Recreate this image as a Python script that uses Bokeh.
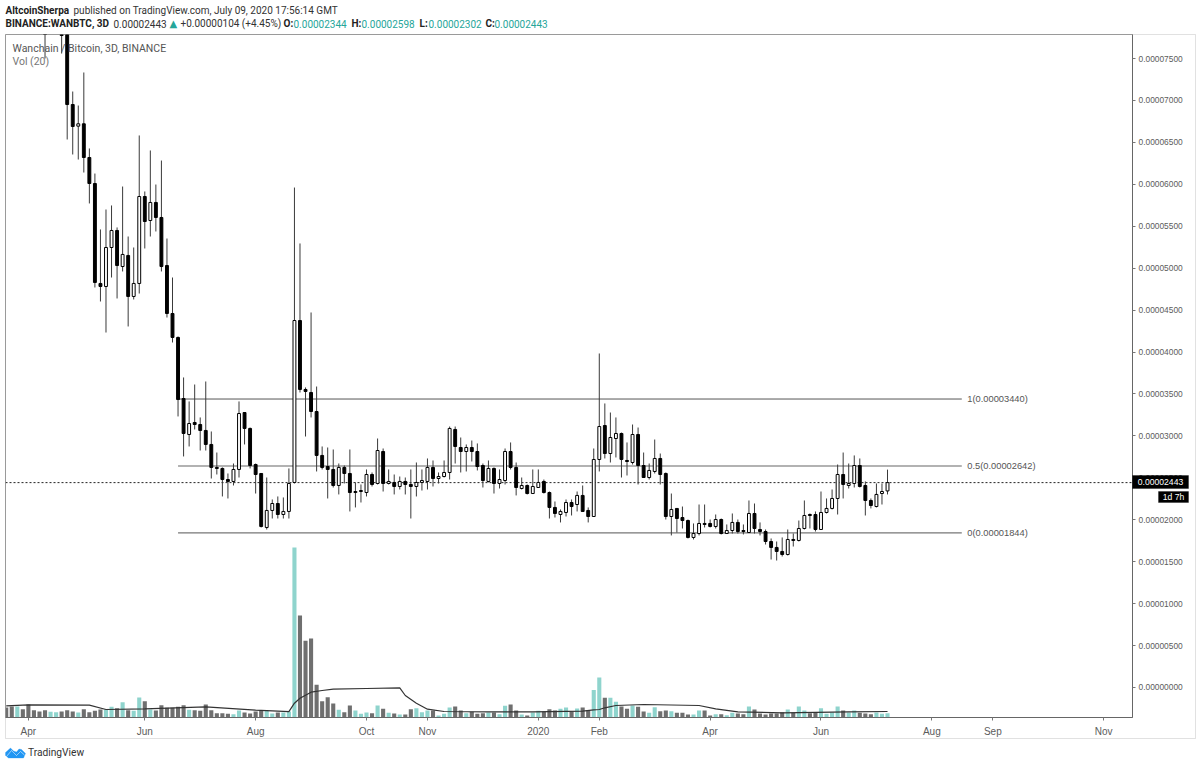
from bokeh.plotting import figure
from bokeh.layouts import column
from bokeh.models import Range1d, FixedTicker, Label, BoxAnnotation, PolyAnnotation
from bokeh.embed import file_html
from bokeh.resources import INLINE

# ---- data (prices in 1e-8 BTC) ----
bars = [-4, -1] + list(range(149))
opens = [8050,7900,7900,6952,6694,6722,6320,6010,4818,4782,5247,5450,5020,5152,4663,4818,5855,5569,5784,5605,5032,4460,4174,
3446,3017,3160,3136,3065,2898,2624,2612,2480,2457,2600,3279,3089,2659,2552,1908,2111,2194,2063,2099,2445,4376,3554,3518,3291,
2767,2635,2600,2409,2624,2552,2325,2337,2325,2540,2433,2814,2433,2445,2397,2457,2421,2397,2445,2457,2624,2492,2516,2564,3077,
2862,2814,2862,2814,2647,2457,2612,2433,2468,2814,2624,2373,2409,2313,2385,2457,2325,2147,2063,2087,2206,2182,2290,2111,2039,
2719,3124,2790,2969,3029,2707,2683,3017,2647,2504,2576,2731,2552,2039,2135,2027,1991,1789,1836,1956,1956,1920,2003,1836,1872,
1968,1872,1848,2075,1884,1860,1741,1670,1622,1586,1765,1753,1896,2063,2063,1884,2087,2135,2254,2540,2409,2433,2647,2409,2230,
2158,2313,2344]
highs = [8100,7950,7950,7107,6940,7334,6428,6129,5462,5700,5748,5486,5974,5378,5247,6583,5915,6404,5998,6284,5354,4889,4186,
3697,3411,3613,3220,3649,3053,2802,2624,2552,2671,3411,3279,3100,2671,2552,2504,2242,2278,2266,2612,5962,5295,3578,4472,3589,
2874,2862,2838,2671,2647,2838,2445,2421,2600,2564,2969,2850,2600,2540,2516,2504,2600,2683,2600,2731,2707,2564,2707,3112,3112,
2981,2898,2945,2910,2671,2707,2624,2600,2850,2922,2683,2504,2421,2600,2600,2480,2337,2218,2123,2242,2242,2337,2409,2147,2850,
3983,3387,3279,3220,3040,2922,3136,3100,2802,2671,2957,2790,2564,2313,2135,2158,2003,1956,2182,2182,2003,2063,2015,1944,2075,
2003,1944,2230,2194,1968,1884,1777,1741,1789,1884,1836,1991,2230,2075,2099,2337,2254,2361,2659,2802,2671,2767,2731,2457,2254,
2433,2433,2598]
lows = [7501,7560,6535,6356,6296,6141,5772,4770,4603,4233,4889,4639,4961,4305,4627,4698,5235,5378,5438,4961,4412,4114,3232,
2755,2874,3077,2826,2826,2492,2540,2278,2254,2409,2504,2898,2612,2313,1908,1884,2015,2015,2015,2015,2433,3518,2993,3220,2576,
2600,2254,2385,2302,2433,2099,2147,2206,2278,2397,2421,2337,2421,2302,2361,2302,2015,2278,2349,2361,2397,2433,2504,2480,2671,
2564,2576,2695,2588,2385,2445,2313,2373,2421,2600,2290,2361,2302,2313,2385,2313,2015,2027,1968,2039,2051,2099,2099,1968,2039,
2576,2731,2683,2743,2504,2528,2659,2421,2504,2480,2552,2421,2003,1813,1848,1896,1777,1765,1813,1908,1908,1896,1825,1836,1836,
1836,1825,1848,1836,1813,1705,1526,1514,1562,1574,1681,1741,1884,1896,1860,1884,2075,2123,2063,2254,2373,2385,2385,2051,2135,
2147,2182,2302]
closes = [7950,7775,6952,6690,6722,6320,6010,4830,4782,5247,5450,5032,5164,4663,4818,5855,5557,5784,5605,5020,4460,4174,3434,
3029,3148,3136,3065,2898,2624,2612,2480,2457,2600,3267,3089,2647,2540,1920,2111,2194,2063,2099,2433,4376,3554,3530,3291,2767,
2624,2600,2409,2624,2552,2325,2337,2349,2540,2421,2826,2433,2457,2397,2457,2421,2397,2445,2468,2624,2492,2516,2564,3089,2874,
2814,2862,2814,2635,2468,2612,2433,2480,2814,2624,2385,2409,2313,2397,2445,2325,2147,2075,2099,2206,2158,2290,2099,2039,2719,
3112,2790,2981,3029,2719,2695,3017,2647,2504,2588,2731,2540,2039,2123,2015,1991,1789,1836,1956,1944,1920,2003,1836,1872,1968,
1860,1860,2075,1896,1860,1741,1670,1622,1586,1765,1753,1896,2051,2051,1884,2087,2135,2254,2540,2421,2433,2647,2397,2230,2170,
2302,2337,2443]

volume_bars = list(range(-11, 149))
volume = [10,11,11,8.3,13,7.3,6,7.3,5.7,5.3,6,7.3,6,5,8.3,5.3,6.7,8,8,10.7,9.3,15.3,7.3,6.7,20,16.3,8,7,12.3,9.7,9.7,10.7,12.3,
7.7,7.3,6.7,13,7.3,4.3,4.3,3.7,3.3,7,5,4,6,7,6.5,4,5,5,6,170,102,76.7,79,32.7,16.3,20.3,14,7.7,5.3,12,7,3.7,5,4.3,12,8.7,4.7,4,
3,3,8.3,9.3,5.3,7,7,2,3.7,10,11,7,4.3,5.7,3.7,4.3,5,5,3.3,11.7,13,7,3,2,5,6.7,5.7,8.3,7,8.7,10,6,9,10,7,27.5,40,19.7,19.7,15.7,
11,8.7,12,10.7,6,4.7,10.3,6.3,7,6.3,4.7,4.7,3,3,7,7,2,3.3,3.3,2.3,4.7,4,3.3,11,8,4,3,4,4,5.3,8,4.7,11,7,4.3,5,9.3,3.7,5,11,7,5,
7,4.7,4,3.3,5,3.7,4.3]
early_volume_up = [0,0,1,0,0,0,0,0,1,1,0]   # bars -11..-1

ma_bars = [-11,-7,4,7,14,25,34,40,41,42,44,46,48,54,60,61,63,65,68,76,84,93,95,96,97,99,104,114,117,121,129,141,148]
ma_values = [11.7,12.7,12.3,8,8.7,10.7,7.3,5.8,14.3,19.3,25.3,27,28.3,29,29.7,22,14.3,8.3,6,5.7,5.7,6.3,7.7,8,9.7,12,13,12,8.7,5.7,4.7,5.7,6]

fib_levels = [3440, 2642, 1844]
fib_names = ["1(0.00003440)", "0.5(0.00002642)", "0(0.00001844)"]
fib_start, fib_end = 20, 161.4
last_price = 2443
price_ticks = [0,500,1000,1500,2000,2500,3000,3500,4000,4500,5000,5500,6000,6500,7000,7500]
price_labels = ["0.00000000","0.00000500","0.00001000","0.00001500","0.00002000","0.00002500","0.00003000","0.00003500",
                "0.00004000","0.00004500","0.00005000","0.00005500","0.00006000","0.00006500","0.00007000","0.00007500"]
time_ticks = [-7,14,34,54,65,85,96,116,136,156,167,187]
time_labels = ["Apr","Jun","Aug","Oct","Nov","2020","Feb","Apr","Jun","Aug","Sep","Nov"]

# ---- main figure ----
W, H = 1196, 759
L_, T_, R_, B_ = 5, 34, 64, 42
X0, X1 = -11.13, 192.2
p = figure(width=W, height=H, output_backend="svg", toolbar_location=None,
           x_range=Range1d(X0, X1), y_range=Range1d(-358, 7787), frame_align=False,
           y_axis_location="right", min_border_left=L_, min_border_right=R_, min_border_top=T_, min_border_bottom=B_,
           background_fill_color="white", border_fill_color="white")
p.grid.visible = False
p.outline_line_color = "#9a9a9a"
p.extra_y_ranges["vol"] = Range1d(0, 683)

TICK = "#5c5c5c"
FONT = "Liberation Sans"
for ax, ticks, labels in ((p.yaxis[0], price_ticks, price_labels), (p.xaxis[0], time_ticks, time_labels)):
    ax.ticker = FixedTicker(ticks=ticks)
    ax.major_label_overrides = dict(zip(ticks, labels))
    ax.minor_tick_line_color = None
    ax.major_tick_in = 0
    ax.major_tick_out = 3
    ax.major_tick_line_color = "#777777"
    ax.axis_line_color = "#666666"
    ax.major_label_text_color = TICK
    ax.major_label_text_font = FONT
p.yaxis[0].major_label_text_font_size = "8.4px"
p.xaxis[0].major_label_text_font_size = "10px"
p.yaxis[0].major_label_standoff = 3
p.xaxis[0].major_label_standoff = 5

# volume
vol_up = early_volume_up + [1 if c >= o else 0 for o, c in zip(opens[2:], closes[2:])]
vol_col = ["#8fd4cd" if u else "#6f6f6f" for u in vol_up]
p.vbar(x=volume_bars, top=volume, bottom=0, width=0.74, fill_color=vol_col, line_color=None, y_range_name="vol")
p.line(ma_bars, ma_values, line_color="#333333", line_width=1.2, y_range_name="vol")

# fib levels
p.segment(x0=[fib_start]*3, x1=[fib_end]*3, y0=fib_levels, y1=fib_levels,
          line_color=["#555555", "#999999", "#777777"], line_width=[1, 1.6, 1.2])
for s, v in zip(fib_names, fib_levels):
    p.add_layout(Label(x=fib_end + 1, y=v, text=s, text_font=FONT, text_font_size="9.3px", text_color="#555555",
                       text_baseline="middle", text_align="left"))

# price line
p.line([X0, X1], [last_price, last_price], line_color="#222222", line_width=1, line_dash=[2, 2])

# candles
p.segment(x0=bars, x1=bars, y0=lows, y1=highs, line_color="#3a3a3a", line_width=1)
p.vbar(x=bars, top=[max(o, c) for o, c in zip(opens, closes)], bottom=[min(o, c) for o, c in zip(opens, closes)],
       width=0.52, line_color="black", line_width=1,
       fill_color=["white" if c >= o else "black" for o, c in zip(opens, closes)])

# ---- transparent top layer for page furniture outside the plot frame ----
top = figure(width=W, height=H, output_backend="svg", toolbar_location=None, x_axis_type=None, y_axis_type=None,
             x_range=Range1d(0, W), y_range=Range1d(0, H), min_border=0, outline_line_color=None, frame_align=False,
             background_fill_alpha=0, border_fill_alpha=0, margin=(-H, 0, 0, 0))
top.grid.visible = False

def text(s, px, py, size, color="#333333", style="normal", font="Roboto", align="left"):
    top.add_layout(Label(x=px, y=H - py, x_units="screen", y_units="screen", text=s, text_font=font,
                         text_font_size=f"{size}px", text_color=color, text_font_style=style,
                         text_baseline="middle", text_align=align))

def box(x0, y0, x1, y1, fill=None, line=None, lw=1):
    top.add_layout(BoxAnnotation(left=x0, right=x1, top=H - y0, bottom=H - y1,
                                 left_units="screen", right_units="screen", top_units="screen", bottom_units="screen",
                                 fill_color=fill, fill_alpha=1 if fill else 0, line_color=line, line_width=lw,
                                 editable=False))

def poly(xs, ys, fill, line, lw=1):
    top.add_layout(PolyAnnotation(xs=list(xs), ys=[H - y for y in ys], xs_units="screen", ys_units="screen",
                                  fill_color=fill, fill_alpha=1 if fill else 0, line_color=line, line_width=lw,
                                  editable=False))

box(5, 34, 1195, 738, line="#9a9a9a", lw=1)

# header
UP = "#26a69a"
DARK = "#222222"
BODY = "#333333"
HS = 10
text("AltcoinSherpa", 5, 10, HS, DARK, "bold")
text("published on TradingView.com, July 09, 2020 17:56:14 GMT", 73, 10, HS, BODY)
text("BINANCE:WANBTC, 3D", 5, 23, HS, DARK, "bold")
text("0.00002443", 113, 23, HS, BODY)
text("▲", 169, 23, 10, UP, font="DejaVu Sans")
text("+0.00000104 (+4.45%)", 180, 23, HS, BODY)
for s, px, col, st in [("O:", 283, DARK, "bold"), ("0.00002344", 293, UP, "normal"),
                       ("H:", 351, DARK, "bold"), ("0.00002598", 361, UP, "normal"),
                       ("L:", 419, DARK, "bold"), ("0.00002302", 428, UP, "normal"),
                       ("C:", 485, DARK, "bold"), ("0.00002443", 494, UP, "normal")]:
    text(s, px, 23, HS, col, st)

text("Wanchain / Bitcoin, 3D, BINANCE", 12, 48, 10.5, "#555555")
text("Vol (20)", 12, 61, 10.5, "#777777")

# price badges
box(1132, 475, 1188, 488, fill="black", line="black")
text("0.00002443", 1160, 481.5, 8.6, "white", font=FONT, align="center")
box(1158, 491, 1188, 502, fill="black", line="black")
text("1d 7h", 1173, 496.5, 8.6, "white", font=FONT, align="center")

# logo
poly([5, 10, 13, 16, 18.5, 21, 25, 23, 8, 5], [752, 747.5, 750.5, 751.5, 748.5, 749, 753, 757.5, 757.5, 755], "#2196f3", "#2196f3")
poly([6, 11, 16, 20, 24, 20, 16, 11], [756, 750, 755, 751, 754.5, 751, 755, 750], None, "white", 1)
text("TradingView", 27.5, 752, 10.2, BODY)

open("out.html", "w").write(file_html(column(p, top), INLINE))
